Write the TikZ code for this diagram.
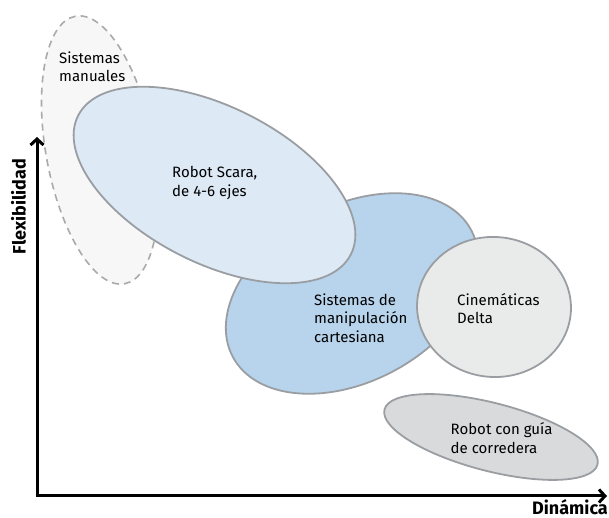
\documentclass[tikz,border=0pt]{standalone}
\usepackage{fontspec}
\setmainfont{Fira Sans}
\usetikzlibrary{arrows.meta}
\definecolor{manfill}{HTML}{F7F7F7}
\definecolor{manline}{HTML}{AAAAAA}
\definecolor{scarafill}{HTML}{DDE9F5}
\definecolor{cartfill}{HTML}{B7D4EC}
\definecolor{deltafill}{HTML}{E9EAEA}
\definecolor{guiafill}{HTML}{D8DADB}
\definecolor{edge}{HTML}{9A9EA2}
\tikzset{
  blob/.style={draw=edge, line width=1.8pt},
  lbl/.style={anchor=west, inner sep=0pt, align=left, font=\fontsize{15}{18.5}\selectfont},
  axislbl/.style={inner sep=0pt, font=\fontsize{18}{20}\selectfont\bfseries},
  axisline/.style={line width=3pt, line join=miter, {Straight Barb[length=6pt,width=13pt]}-{Straight Barb[length=6pt,width=13pt]}}
}
\begin{document}
\begin{tikzpicture}[x=1pt,y=1pt]
\useasboundingbox (0,0) rectangle (609,518);
% ellipses
\filldraw[fill=manfill, draw=manline, line width=1.6pt, dash pattern=on 7pt off 5pt, rotate around={10.4:(100,368)}] (100,368) ellipse [x radius=54, y radius=136];
\filldraw[blob, fill=cartfill, rotate around={28:(352,224.5)}] (352,224.5) ellipse [x radius=135, y radius=88];
\filldraw[blob, fill=scarafill, rotate around={-27:(214.5,333)}] (214.5,333) ellipse [x radius=153, y radius=78];
\filldraw[blob, fill=deltafill, rotate around={-4:(494,211)}] (494,211) ellipse [x radius=77, y radius=70];
\filldraw[blob, fill=guiafill, rotate around={-14.5:(491,81)}] (491,81) ellipse [x radius=110, y radius=34];
% labels
\node[lbl] (man) at (59,451) {Sistemas\\manuales};
\node[lbl] (scara) at (172,335) {Robot Scara,\\de 4-6 ejes};
\node[lbl] (cart) at (314,200) {Sistemas de\\manipulación\\cartesiana};
\node[lbl] (delta) at (457,209.3) {Cinemáticas\\Delta};
\node[lbl] (guia) at (450.5,79.7) {Robot con guía\\de corredera};
% axes
\coordinate (ytip) at (37,381);
\coordinate (xtip) at (607,22);
\draw[axisline] (ytip) |- (xtip);
\node[axislbl, rotate=90, anchor=base] (flex) at (25.5,311.5) {Flexibilidad};
\node[axislbl, anchor=base east] (din) at (608,3.5) {Dinámica};
\end{tikzpicture}
\end{document}
